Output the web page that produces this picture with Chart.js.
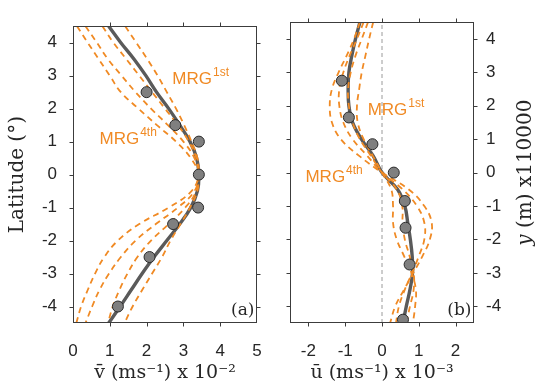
<!DOCTYPE html>
<html>
<head>
<meta charset="utf-8">
<script src="https://cdn.jsdelivr.net/npm/chart.js@4"></script>
<style>
  body { margin: 0; background: #fff; }
  #wrap { position: relative; width: 537px; height: 387px; }
  #left { position: absolute; left: 0; top: 0; }
  #right { position: absolute; left: 268px; top: 0; }
</style>
</head>
<body>
<div id="wrap">
  <div id="left"><canvas id="chartA" width="268" height="387"></canvas></div>
  <div id="right"><canvas id="chartB" width="269" height="387"></canvas></div>
</div>
<script>
// latitude grid the curves are sampled on
const lat = [4.5, 4, 3.5, 3, 2.5, 2, 1.5, 1, 0.5, 0, -0.5, -1, -1.5, -2, -2.5, -3, -3.5, -4, -4.5];
const latTicks = [-4, -3, -2, -1, 0, 1, 2, 3, 4];

// (a) meridional velocity v, x 10^-2
const vTicks = [0, 1, 2, 3, 4, 5];
const vObsLat = [2.5, 1.5, 1, 0, -1, -1.5, -2.5, -4];
const vObs = [2.0, 2.78, 3.42, 3.42, 3.40, 2.72, 2.08, 1.22];
const vFit = [0.97, 1.30, 1.66, 1.98, 2.27, 2.60, 2.90, 3.18, 3.36, 3.42, 3.38, 3.20, 2.90, 2.55, 2.20, 1.88, 1.58, 1.28, 0.97];
const vMrg1 = [1.42, 1.72, 2.02, 2.30, 2.55, 2.80, 3.02, 3.22, 3.38, 3.42, 3.38, 3.18, 2.92, 2.65, 2.42, 2.15, 1.88, 1.62, 1.40];
const vMrg2 = [0.80, 1.10, 1.45, 1.80, 2.15, 2.50, 2.85, 3.15, 3.35, 3.42, 3.35, 3.05, 2.60, 2.12, 1.75, 1.48, 1.26, 1.08, 0.95];
const vMrg3 = [0.34, 0.65, 0.95, 1.32, 1.70, 2.12, 2.58, 3.00, 3.30, 3.41, 3.30, 2.85, 2.25, 1.70, 1.30, 0.98, 0.72, 0.52, 0.34];
const vMrg4 = [0.11, 0.40, 0.70, 1.00, 1.30, 1.78, 2.28, 2.80, 3.20, 3.40, 3.22, 2.60, 1.80, 1.22, 0.85, 0.60, 0.40, 0.22, 0.09];

// (b) zonal velocity u, x 10^-3
const uTicks = [-2, -1, 0, 1, 2];
const uObsLat = [2.75, 1.65, 0.85, 0, -0.85, -1.65, -2.75, -4.4];
const uObs = [-1.09, -0.90, -0.26, 0.32, 0.62, 0.64, 0.75, 0.57];
const uFit = [-0.60, -0.72, -0.82, -0.90, -0.92, -0.90, -0.80, -0.56, -0.24, 0.0, 0.42, 0.62, 0.70, 0.77, 0.82, 0.83, 0.76, 0.66, 0.57];
const uMrg1 = [-0.24, -0.35, -0.45, -0.55, -0.62, -0.68, -0.66, -0.50, -0.25, 0.0, 0.25, 0.30, 0.30, 0.40, 0.60, 0.80, 0.92, 0.90, 0.84];
const uMrg2 = [-0.38, -0.55, -0.72, -0.85, -0.92, -0.90, -0.80, -0.60, -0.30, 0.0, 0.40, 0.55, 0.56, 0.62, 0.75, 0.86, 0.86, 0.76, 0.66];
const uMrg3 = [-0.50, -0.68, -0.88, -1.05, -1.16, -1.16, -1.05, -0.80, -0.40, 0.0, 0.56, 0.95, 1.15, 1.15, 1.00, 0.82, 0.62, 0.46, 0.38];
const uMrg4 = [-0.60, -0.76, -0.96, -1.18, -1.36, -1.42, -1.36, -1.12, -0.62, 0.0, 0.72, 1.15, 1.35, 1.30, 1.10, 0.85, 0.60, 0.36, 0.22];
const zeroLine = [0, 0];
const zeroLat = [-4.5, 4.5];

const ORANGE = '#f08a24';
const GREY = '#5a5a5a';
const INK = '#262626';
const SANS = '"Liberation Sans", Arial, sans-serif';
const SERIF = '"DejaVu Serif", serif';

const pts = (xs, ys) => xs.map((v, i) => ({ x: v, y: ys[i] }));

function dots(xs, ys) {
  return { data: pts(xs, ys), showLine: false, pointRadius: 5.5, pointBackgroundColor: '#7f7f7f',
           pointBorderColor: '#2a2a2a', pointBorderWidth: 1, order: 0 };
}
function dashed(xs) {
  return { data: pts(xs, lat), showLine: true, pointRadius: 0, borderColor: ORANGE, borderWidth: 1.8,
           borderDash: [6, 4.5], tension: 0.4, order: 1 };
}
function fit(xs) {
  return { data: pts(xs, lat), showLine: true, pointRadius: 0, borderColor: GREY, borderWidth: 3.4,
           tension: 0.4, order: 2 };
}

function supText(ctx, x, y, base, sup) {
  ctx.font = '17px ' + SANS;
  ctx.fillText(base, x, y);
  const w = ctx.measureText(base).width;
  ctx.font = '12px ' + SANS;
  ctx.fillText(sup, x + w + 1, y - 8);
}

// box with outward ticks on all four sides + panel notes
const frame = {
  id: 'frame',
  afterDatasetsDraw(chart, args, opts) {
    const { ctx, chartArea: a, scales: { x, y } } = chart;
    const L = Math.round(a.left) + 0.5, R = Math.round(a.right) - 0.5;
    const T = Math.round(a.top) + 0.5, B = Math.round(a.bottom) - 0.5;
    ctx.save();
    ctx.strokeStyle = '#3c3c3c';
    ctx.lineWidth = 1;
    ctx.strokeRect(L, T, R - L, B - T);
    ctx.beginPath();
    x.ticks.forEach(t => {
      if (t.value <= x.min || t.value >= x.max) return;
      const p = Math.round(x.getPixelForValue(t.value)) + 0.5;
      ctx.moveTo(p, B); ctx.lineTo(p, B + 4);
      ctx.moveTo(p, T); ctx.lineTo(p, T - 4);
    });
    y.ticks.forEach(t => {
      if (t.value <= y.min || t.value >= y.max) return;
      const p = Math.round(y.getPixelForValue(t.value)) + 0.5;
      ctx.moveTo(L, p); ctx.lineTo(L - 4, p);
      ctx.moveTo(R, p); ctx.lineTo(R + 4, p);
    });
    ctx.stroke();

    ctx.fillStyle = ORANGE;
    ctx.textBaseline = 'alphabetic';
    ctx.textAlign = 'left';
    opts.notes.forEach(n => supText(ctx, x.getPixelForValue(n.x), y.getPixelForValue(n.y), 'MRG', n.sup));

    ctx.fillStyle = INK;
    ctx.font = '17px ' + SERIF;
    ctx.textAlign = 'right';
    ctx.fillText(opts.tag, R - 2, B - 8);

    if (opts.sideTitle) {
      ctx.translate(y.right - 11, (a.top + a.bottom) / 2);
      ctx.rotate(-Math.PI / 2);
      ctx.font = 'italic 20px ' + SERIF;
      const w1 = ctx.measureText('y').width;
      ctx.font = '20px ' + SERIF;
      const rest = ' (m) x110000';
      const w2 = ctx.measureText(rest).width;
      ctx.textAlign = 'left';
      ctx.textBaseline = 'middle';
      ctx.font = 'italic 20px ' + SERIF;
      ctx.fillText('y', -(w1 + w2) / 2, 0);
      ctx.font = '20px ' + SERIF;
      ctx.fillText(rest, -(w1 + w2) / 2 + w1, 0);
    }
    ctx.restore();
  }
};

function makeOptions(xr, xTicks, xTitle, yPos, yWidth, padLeft, padRight, extra) {
  return {
    responsive: false,
    animation: false,
    events: [],
    layout: { padding: { top: 13, left: padLeft, right: padRight, bottom: 0 } },
    plugins: { legend: { display: false }, tooltip: { enabled: false }, frame: extra },
    scales: {
      x: {
        type: 'linear', min: xr[0], max: xr[1],
        afterBuildTicks: s => { s.ticks = xTicks.map(v => ({ value: v })); },
        ticks: { font: { family: SANS, size: 17 }, color: INK, padding: 18, maxRotation: 0 },
        grid: { display: false, drawTicks: false },
        border: { display: false },
        title: { display: true, text: xTitle, color: INK, font: { family: SERIF, size: 19 },
                 padding: { top: 0, bottom: 3 } },
        afterFit: s => { s.height = 64; s.paddingLeft = 0; s.paddingRight = 0; }
      },
      y: {
        type: 'linear', position: yPos, min: -4.5, max: 4.5,
        afterBuildTicks: s => { s.ticks = latTicks.map(v => ({ value: v })); },
        ticks: { font: { family: SANS, size: 17 }, color: INK, padding: yPos === 'left' ? 16 : 12 },
        grid: { display: false, drawTicks: false },
        border: { display: false },
        title: { display: yPos === 'left', text: 'Latitude (°)', color: INK, font: { family: SERIF, size: 20 },
                 padding: { top: 6, bottom: 0 } },
        afterFit: s => { s.width = yWidth; }
      }
    }
  };
}

new Chart(document.getElementById('chartA'), {
  type: 'scatter',
  data: {
    datasets: [
      dots(vObs, vObsLat),
      dashed(vMrg1), dashed(vMrg2), dashed(vMrg3), dashed(vMrg4),
      fit(vFit)
    ]
  },
  options: makeOptions([0, 5], vTicks, 'v̄ (ms⁻¹) x 10⁻²', 'left', 73, 0, 11,
    { notes: [{ x: 2.7, y: 2.75, sup: '1st' }, { x: 0.72, y: 0.94, sup: '4th' }], tag: '(a)', sideTitle: false }),
  plugins: [frame]
});

new Chart(document.getElementById('chartB'), {
  type: 'scatter',
  data: {
    datasets: [
      dots(uObs, uObsLat),
      dashed(uMrg1), dashed(uMrg2), dashed(uMrg3), dashed(uMrg4),
      fit(uFit),
      { data: pts(zeroLine, zeroLat), showLine: true, pointRadius: 0, borderColor: '#9a9a9a',
        borderWidth: 1, borderDash: [4, 3], order: 3 }
    ]
  },
  options: makeOptions([-2.5, 2.5], uTicks, 'ū (ms⁻¹) x 10⁻³', 'right', 63, 22, 0,
    { notes: [{ x: -0.39, y: 1.73, sup: '1st' }, { x: -2.08, y: -0.28, sup: '4th' }], tag: '(b)', sideTitle: true }),
  plugins: [frame]
});
</script>
</body>
</html>
